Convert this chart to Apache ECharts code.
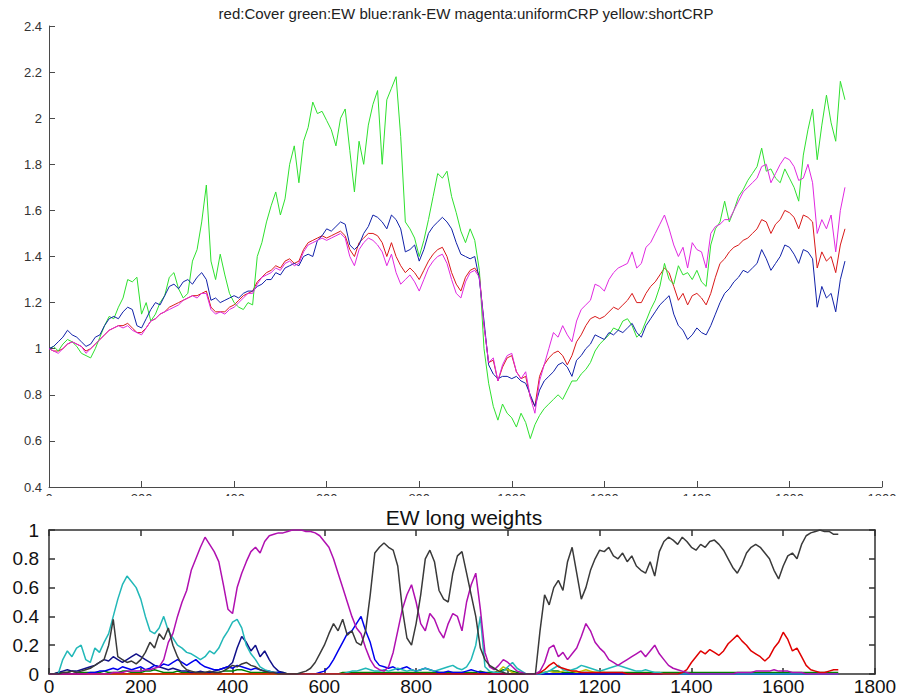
<!DOCTYPE html>
<html>
<head>
<meta charset="utf-8">
<script src="https://cdn.jsdelivr.net/npm/echarts/dist/echarts.min.js"></script>
<style>
  html, body { margin: 0; padding: 0; background: #ffffff; }
  #chart { width: 909px; height: 696px; }
</style>
</head>
<body>
<div id="chart"></div>
<script>
// Sampling step (trading days) between consecutive stored values
const STEP = 10;

// ---- Wealth curves (upper panel), one value every STEP days from day 0 ----
const wealthCover = [
  1.00,0.99,0.99,1.00,1.02,1.03,1.02,1.01,0.99,1.00,
  1.02,1.04,1.06,1.08,1.09,1.10,1.10,1.11,1.09,1.07,
  1.07,1.09,1.12,1.13,1.15,1.16,1.18,1.19,1.20,1.21,
  1.22,1.23,1.23,1.24,1.25,1.18,1.16,1.16,1.16,1.18,
  1.19,1.21,1.23,1.24,1.25,1.29,1.31,1.33,1.34,1.36,
  1.35,1.38,1.39,1.37,1.38,1.43,1.46,1.47,1.48,1.49,
  1.48,1.49,1.50,1.51,1.49,1.43,1.40,1.46,1.48,1.50,
  1.50,1.49,1.46,1.40,1.46,1.40,1.36,1.33,1.35,1.33,
  1.30,1.34,1.38,1.41,1.43,1.44,1.40,1.33,1.28,1.25,
  1.31,1.34,1.35,1.32,1.10,0.94,0.95,0.86,0.92,0.96,
  0.97,0.90,0.87,0.88,0.79,0.75,0.88,0.93,0.96,0.98,
  0.99,0.97,0.93,0.97,1.03,1.06,1.10,1.13,1.14,1.13,
  1.14,1.16,1.18,1.17,1.19,1.21,1.24,1.20,1.20,1.24,
  1.27,1.29,1.32,1.35,1.33,1.27,1.21,1.24,1.19,1.23,
  1.24,1.22,1.19,1.24,1.31,1.37,1.39,1.42,1.44,1.45,
  1.47,1.48,1.50,1.52,1.56,1.55,1.50,1.54,1.56,1.60,
  1.59,1.57,1.52,1.58,1.57,1.55,1.35,1.42,1.38,1.40,
  1.33,1.45,1.52
];
const wealthEW = [
  1.00,1.01,0.99,1.02,1.04,1.03,1.01,0.98,0.97,0.96,
  1.00,1.05,1.10,1.14,1.13,1.18,1.22,1.30,1.29,1.31,
  1.15,1.20,1.12,1.15,1.20,1.23,1.31,1.33,1.26,1.22,
  1.24,1.38,1.43,1.55,1.71,1.38,1.30,1.41,1.32,1.24,
  1.20,1.18,1.17,1.20,1.19,1.40,1.46,1.55,1.62,1.68,
  1.58,1.65,1.80,1.88,1.72,1.90,1.96,2.07,2.02,2.03,
  1.99,1.95,1.88,2.00,2.04,1.86,1.68,1.90,1.80,1.97,
  2.06,2.12,1.80,2.08,2.13,2.18,1.92,1.55,1.52,1.48,
  1.40,1.47,1.56,1.66,1.76,1.74,1.77,1.66,1.59,1.51,
  1.46,1.52,1.47,1.34,1.00,0.85,0.75,0.69,0.76,0.72,
  0.70,0.66,0.72,0.68,0.61,0.67,0.71,0.74,0.76,0.78,
  0.80,0.78,0.82,0.86,0.86,0.89,0.91,0.94,0.99,1.02,
  1.04,1.06,1.09,1.08,1.12,1.13,1.10,1.05,1.07,1.12,
  1.17,1.21,1.27,1.37,1.30,1.28,1.36,1.32,1.33,1.30,
  1.34,1.29,1.27,1.45,1.52,1.55,1.64,1.55,1.60,1.66,
  1.69,1.73,1.76,1.79,1.87,1.77,1.78,1.74,1.72,1.78,
  1.74,1.70,1.64,1.84,1.95,2.04,1.82,1.97,2.10,1.98,
  1.90,2.16,2.08
];
const wealthRankEW = [
  1.00,1.01,1.03,1.05,1.08,1.06,1.05,1.03,1.01,1.02,
  1.05,1.06,1.10,1.13,1.14,1.13,1.16,1.18,1.17,1.10,
  1.09,1.13,1.17,1.20,1.19,1.23,1.27,1.28,1.26,1.29,
  1.30,1.28,1.31,1.33,1.30,1.21,1.22,1.20,1.21,1.22,
  1.23,1.22,1.24,1.25,1.25,1.27,1.28,1.30,1.30,1.33,
  1.32,1.35,1.36,1.37,1.36,1.40,1.41,1.40,1.47,1.49,
  1.52,1.51,1.53,1.55,1.54,1.45,1.43,1.45,1.50,1.53,
  1.58,1.57,1.55,1.52,1.58,1.56,1.52,1.42,1.43,1.45,
  1.38,1.43,1.50,1.53,1.55,1.57,1.55,1.52,1.46,1.41,
  1.40,1.39,1.40,1.30,1.12,0.93,0.89,0.87,0.88,0.88,
  0.87,0.88,0.86,0.85,0.80,0.75,0.82,0.86,0.88,0.90,
  0.93,0.94,0.92,0.88,0.95,0.97,1.00,1.02,1.06,1.05,
  1.04,1.07,1.06,1.08,1.07,1.09,1.11,1.07,1.05,1.10,
  1.13,1.16,1.19,1.21,1.23,1.15,1.10,1.08,1.04,1.06,
  1.09,1.07,1.06,1.10,1.15,1.20,1.24,1.26,1.29,1.31,
  1.34,1.33,1.35,1.37,1.43,1.39,1.34,1.37,1.40,1.45,
  1.44,1.41,1.37,1.43,1.42,1.39,1.18,1.27,1.22,1.24,
  1.16,1.30,1.38
];
const wealthUniformCRP = [
  1.00,0.99,0.98,1.00,1.02,1.03,1.02,1.01,0.98,1.00,
  1.02,1.04,1.06,1.08,1.09,1.10,1.09,1.10,1.08,1.07,
  1.06,1.09,1.12,1.13,1.15,1.16,1.17,1.18,1.19,1.21,
  1.22,1.23,1.22,1.24,1.24,1.17,1.15,1.16,1.15,1.17,
  1.18,1.20,1.22,1.24,1.24,1.28,1.31,1.32,1.33,1.35,
  1.34,1.37,1.38,1.36,1.37,1.42,1.45,1.46,1.47,1.48,
  1.47,1.48,1.49,1.50,1.48,1.40,1.36,1.43,1.46,1.48,
  1.47,1.45,1.42,1.36,1.41,1.33,1.28,1.30,1.32,1.29,
  1.25,1.30,1.35,1.38,1.40,1.41,1.37,1.30,1.24,1.22,
  1.29,1.33,1.34,1.31,1.10,0.94,0.96,0.86,0.93,0.97,
  0.98,0.90,0.87,0.90,0.79,0.72,0.86,0.93,1.00,1.07,
  1.05,1.10,1.06,1.03,1.12,1.17,1.19,1.21,1.28,1.27,
  1.25,1.30,1.33,1.35,1.36,1.37,1.42,1.35,1.37,1.44,
  1.46,1.50,1.54,1.58,1.52,1.45,1.40,1.44,1.35,1.46,
  1.43,1.42,1.35,1.50,1.53,1.54,1.56,1.56,1.60,1.64,
  1.68,1.70,1.72,1.74,1.79,1.80,1.72,1.76,1.80,1.83,
  1.82,1.79,1.73,1.74,1.80,1.72,1.50,1.56,1.52,1.58,
  1.42,1.60,1.70
];

// ---- EW long weights (lower panel), one value every STEP days from day 0 ----
const weightBlue = [
  0,0,0,0,0,0,0,0,0,0.01,
  0.01,0.02,0.02,0.03,0.04,0.03,0.05,0.04,0.03,0.04,
  0.05,0.03,0.04,0.06,0.05,0.07,0.06,0.08,0.10,0.08,
  0.06,0.08,0.10,0.07,0.05,0.04,0.03,0.03,0.04,0.05,
  0.04,0.06,0.05,0.04,0.03,0.04,0.03,0.02,0.02,0.01,
  0.01,0,0,0,0,0,0,0,0,0.01,
  0.02,0.05,0.10,0.16,0.22,0.28,0.30,0.35,0.40,0.30,
  0.22,0.10,0.06,0.05,0.04,0.05,0.03,0.04,0.05,0.03,
  0.02,0.03,0.04,0.03,0.02,0.01,0.01,0.02,0.01,0.01,
  0.01,0.02,0.03,0.02,0.01,0.01,0,0,0,0,
  0,0,0,0,0,0,0,0,0,0,
  0,0,0,0,0,0,0,0,0,0,
  0,0,0,0,0,0,0,0,0,0,
  0,0,0,0,0,0,0,0,0,0,
  0,0,0,0,0,0,0,0,0,0,
  0,0,0,0,0,0,0,0,0,0,
  0,0,0,0,0,0,0,0,0,0,
  0,0,0
];
const weightNavy = [
  0,0,0.01,0.02,0.03,0.02,0.02,0.03,0.04,0.05,
  0.06,0.08,0.10,0.09,0.12,0.10,0.08,0.10,0.12,0.14,
  0.12,0.10,0.08,0.06,0.05,0.04,0.03,0.04,0.03,0.02,
  0.02,0.01,0.01,0.02,0.01,0.01,0.02,0.03,0.04,0.05,
  0.08,0.18,0.26,0.22,0.16,0.20,0.12,0.16,0.10,0.05,
  0.02,0.01,0,0,0,0,0,0,0,0,
  0,0,0,0,0,0,0,0,0,0,
  0,0,0,0,0,0,0,0,0,0,
  0,0,0,0,0,0,0,0,0,0,
  0,0,0,0,0,0,0,0,0,0,
  0,0,0,0,0,0,0,0,0,0,
  0,0,0,0,0,0,0,0,0,0,
  0,0,0,0,0,0,0,0,0,0,
  0,0,0,0,0,0,0,0,0,0,
  0,0,0,0,0,0,0,0,0,0,
  0,0,0,0,0,0,0,0,0,0,
  0,0,0,0,0,0,0,0,0,0,
  0,0,0
];
const weightGreen = [
  0,0,0.01,0.01,0.01,0.02,0.01,0.01,0.01,0.01,
  0.01,0.01,0.02,0.01,0.01,0.01,0.02,0.02,0.01,0.01,
  0.01,0.02,0.02,0.03,0.02,0.01,0.01,0.01,0.02,0.01,
  0.01,0.01,0.01,0.01,0.01,0.01,0.01,0.01,0.02,0.02,
  0.02,0.03,0.03,0.02,0.01,0.01,0.01,0.01,0.01,0.01,
  0.01,0.01,0,0,0,0,0,0,0,0,
  0,0,0,0,0.01,0.01,0.01,0.01,0.01,0.01,
  0.01,0.01,0.01,0.01,0.01,0.01,0.01,0.01,0.01,0.01,
  0.01,0.01,0.01,0.01,0.01,0.01,0.01,0.01,0.01,0.01,
  0.01,0.01,0.01,0.01,0.02,0.01,0.01,0.01,0.02,0.03,
  0.03,0.02,0.01,0,0,0,0,0.01,0.01,0.02,
  0.02,0.02,0.01,0.01,0.01,0.01,0.01,0.01,0.01,0.01,
  0.01,0.01,0.01,0.01,0.01,0.01,0.01,0.01,0.01,0.01,
  0.01,0.01,0.01,0.01,0.01,0.01,0.01,0.01,0.01,0.01,
  0.01,0.01,0.01,0.01,0.01,0.01,0.01,0.01,0.01,0.01,
  0.01,0.01,0.01,0.01,0.01,0.01,0.01,0.01,0.01,0.01,
  0.01,0.01,0.01,0.01,0.01,0.01,0.01,0.01,0.01,0.01,
  0.01,0.01,0.01
];
const weightRed = [
  0,0,0,0,0,0,0,0,0,0,
  0,0,0,0,0,0,0,0,0,0,
  0,0,0,0,0,0,0,0,0,0,
  0,0,0,0,0,0,0,0,0,0,
  0,0,0,0,0,0,0,0,0,0,
  0,0,0,0,0,0,0,0,0,0,
  0,0,0,0,0,0,0,0,0,0,
  0,0,0,0,0,0,0,0,0,0,
  0,0,0,0,0,0,0,0,0,0,
  0,0,0,0,0,0,0,0,0,0,
  0,0,0,0,0,0,0,0.01,0.03,0.06,
  0.08,0.05,0.04,0.03,0.02,0.02,0.01,0.01,0.01,0.01,
  0.01,0.01,0.01,0.01,0.01,0.01,0,0,0,0,
  0,0,0,0,0,0,0,0,0.01,0.03,
  0.08,0.12,0.16,0.14,0.17,0.15,0.13,0.16,0.21,0.24,
  0.27,0.23,0.20,0.16,0.14,0.12,0.09,0.12,0.18,0.22,
  0.29,0.24,0.16,0.18,0.12,0.06,0.03,0.02,0.01,0.01,
  0.02,0.03,0.03
];
const weightCyan = [
  0,0,0,0.10,0.16,0.12,0.18,0.20,0.10,0.08,
  0.18,0.15,0.22,0.28,0.40,0.52,0.62,0.68,0.64,0.60,
  0.52,0.40,0.30,0.28,0.32,0.40,0.30,0.25,0.20,0.18,
  0.15,0.14,0.12,0.10,0.12,0.16,0.14,0.18,0.25,0.30,
  0.36,0.38,0.32,0.20,0.14,0.10,0.05,0.03,0.02,0.01,
  0,0,0,0,0,0,0,0,0,0,
  0,0,0,0,0,0.01,0.02,0.02,0.03,0.04,
  0.03,0.02,0.02,0.03,0.02,0.03,0.04,0.03,0.02,0.03,
  0.02,0.03,0.04,0.03,0.02,0.03,0.04,0.05,0.06,0.04,
  0.03,0.05,0.10,0.20,0.40,0.05,0.02,0.01,0.01,0.02,
  0.05,0.08,0.04,0.02,0,0,0,0,0.01,0.02,
  0.04,0.06,0.03,0.02,0.03,0.04,0.06,0.05,0.04,0.03,
  0.02,0.03,0.04,0.05,0.06,0.05,0.04,0.03,0.02,0.02,
  0.03,0.02,0.01,0.01,0,0,0,0,0,0,
  0,0,0,0,0,0,0,0,0,0,
  0,0,0,0,0,0,0,0,0,0,
  0,0,0,0,0,0,0,0,0,0,
  0,0,0
];
const weightMagenta = [
  0,0,0,0,0,0,0,0,0,0,
  0,0,0,0,0.01,0.01,0.01,0.02,0.02,0.02,
  0.02,0.03,0.03,0.04,0.05,0.10,0.22,0.28,0.40,0.50,
  0.58,0.72,0.80,0.88,0.95,0.90,0.85,0.78,0.62,0.45,
  0.42,0.60,0.70,0.78,0.85,0.88,0.84,0.92,0.96,0.97,
  0.98,0.98,0.99,1.00,1.00,1.00,0.99,0.99,0.98,0.96,
  0.92,0.88,0.80,0.70,0.60,0.50,0.40,0.32,0.28,0.18,
  0.10,0.05,0.03,0.02,0.05,0.15,0.30,0.45,0.55,0.62,
  0.50,0.35,0.30,0.42,0.38,0.30,0.25,0.35,0.42,0.40,
  0.30,0.50,0.62,0.70,0.45,0.15,0.05,0.03,0.06,0.10,
  0.08,0.05,0.02,0.01,0,0,0,0.02,0.08,0.18,
  0.20,0.12,0.15,0.10,0.14,0.18,0.26,0.35,0.30,0.22,
  0.18,0.15,0.10,0.08,0.06,0.08,0.10,0.12,0.14,0.16,
  0.12,0.16,0.20,0.14,0.10,0.06,0.04,0.03,0.02,0.01,
  0,0,0,0,0,0,0,0,0,0,
  0.01,0.01,0.01,0.01,0.02,0.02,0.02,0.02,0.03,0.02,
  0.02,0.02,0.01,0.01,0.01,0,0,0,0,0,
  0,0,0
];
const weightYellow = [
  0,0,0,0,0,0,0,0,0,0,
  0,0,0,0,0,0,0,0,0,0,
  0,0,0,0,0,0,0,0,0,0,
  0,0,0,0,0,0,0,0,0,0,
  0,0,0,0,0,0,0,0,0,0,
  0,0,0,0,0,0,0,0,0,0,
  0,0,0,0,0,0,0,0,0,0,
  0,0,0,0,0,0,0,0,0,0,
  0,0,0,0,0,0,0,0,0,0,
  0,0,0,0,0,0,0,0,0.02,0.05,
  0.03,0.01,0,0,0,0,0,0,0.01,0.02,
  0.01,0.01,0.02,0.03,0.02,0.01,0.02,0.03,0.02,0.01,
  0.01,0.01,0,0,0,0,0,0,0,0,
  0,0,0,0,0,0,0,0,0,0,
  0,0,0,0,0,0,0,0,0,0,
  0,0,0,0,0,0,0,0,0,0,
  0,0,0,0,0,0,0,0,0,0,
  0,0,0
];
const weightGray = [
  0,0,0,0.01,0.01,0.02,0.01,0.02,0.03,0.04,
  0.06,0.08,0.10,0.20,0.38,0.12,0.10,0.08,0.09,0.07,
  0.10,0.15,0.22,0.18,0.28,0.24,0.32,0.20,0.12,0.06,
  0.03,0.02,0.01,0.01,0.01,0.02,0.01,0.01,0.02,0.04,
  0.06,0.05,0.07,0.08,0.06,0.05,0.03,0.02,0.01,0.01,
  0,0,0,0,0,0.01,0.02,0.04,0.08,0.14,
  0.20,0.28,0.35,0.30,0.38,0.27,0.30,0.22,0.20,0.30,
  0.55,0.84,0.88,0.91,0.88,0.86,0.75,0.45,0.25,0.20,
  0.35,0.55,0.80,0.86,0.78,0.58,0.52,0.50,0.70,0.82,
  0.85,0.70,0.55,0.40,0.18,0.10,0.06,0.04,0.02,0.01,
  0,0,0,0,0,0,0,0.30,0.55,0.48,
  0.60,0.65,0.58,0.78,0.88,0.70,0.52,0.60,0.72,0.80,
  0.86,0.85,0.88,0.82,0.80,0.84,0.78,0.82,0.75,0.72,
  0.70,0.78,0.68,0.85,0.92,0.95,0.93,0.90,0.95,0.92,
  0.88,0.86,0.90,0.88,0.92,0.93,0.90,0.86,0.80,0.74,
  0.70,0.76,0.84,0.88,0.90,0.88,0.84,0.80,0.72,0.66,
  0.75,0.82,0.84,0.80,0.90,0.96,0.98,0.99,1.00,0.99,
  0.99,0.97,0.97
];

// Axis ranges and tick spacing
const dayRange = [0, 1800, 200];
const wealthRange = [0.4, 2.4, 0.2];
const weightRange = [0, 1, 0.2];

const TOP_TITLE = 'red:Cover green:EW blue:rank-EW magenta:uniformCRP yellow:shortCRP';
const BOTTOM_TITLE = 'EW long weights';

function toPoints(values) {
  return values.map((v, i) => [i * STEP, v]);
}

const FONT = "'Liberation Sans', Arial, sans-serif";
const plainNumber = (v) => String(v);

const chart = echarts.init(document.getElementById('chart'), null, { renderer: 'svg' });

function lineSeries(values, color, xi, yi, width) {
  return {
    type: 'line',
    xAxisIndex: xi,
    yAxisIndex: yi,
    data: toPoints(values),
    showSymbol: false,
    symbol: 'none',
    silent: true,
    lineStyle: { color: color, width: width },
    animation: false
  };
}

const topAxisStyle = { color: '#4a4a4a', width: 1 };
const botAxisStyle = { color: '#303030', width: 1.5 };

chart.setOption({
  animation: false,
  backgroundColor: '#ffffff',
  title: [
    {
      text: TOP_TITLE, left: 466, top: 6, textAlign: 'center', padding: 0,
      textStyle: { fontSize: 15, fontWeight: 'normal', color: '#222', fontFamily: FONT }
    },
    {
      text: BOTTOM_TITLE, left: 464, top: 507, textAlign: 'center', padding: 0,
      textStyle: { fontSize: 21, fontWeight: 'normal', color: '#111', fontFamily: FONT }
    }
  ],
  grid: [
    { left: 49, right: 27, top: 26, bottom: 209 },
    { left: 49, right: 34, top: 530, bottom: 18 }
  ],
  xAxis: [
    {
      gridIndex: 0, type: 'value', min: dayRange[0], max: dayRange[1], interval: dayRange[2],
      axisLine: { show: true, onZero: false, lineStyle: topAxisStyle },
      axisTick: { show: true, inside: true, length: 6, lineStyle: topAxisStyle },
      axisLabel: { margin: 5, fontSize: 13, color: '#333', fontFamily: FONT, formatter: plainNumber },
      splitLine: { show: false }
    },
    {
      gridIndex: 1, type: 'value', min: dayRange[0], max: dayRange[1], interval: dayRange[2],
      axisLine: { show: true, onZero: false, lineStyle: botAxisStyle },
      axisTick: { show: true, inside: true, length: 6, lineStyle: botAxisStyle },
      axisLabel: { margin: 3, fontSize: 19, color: '#111', fontFamily: FONT, formatter: plainNumber },
      splitLine: { show: false }
    },
    {
      gridIndex: 1, type: 'value', position: 'top', min: dayRange[0], max: dayRange[1], interval: dayRange[2],
      axisLine: { show: true, onZero: false, lineStyle: botAxisStyle },
      axisTick: { show: true, inside: true, length: 6, lineStyle: botAxisStyle },
      axisLabel: { show: false },
      splitLine: { show: false }
    }
  ],
  yAxis: [
    {
      gridIndex: 0, type: 'value', min: wealthRange[0], max: wealthRange[1], interval: wealthRange[2],
      axisLine: { show: true, onZero: false, lineStyle: topAxisStyle },
      axisTick: { show: true, inside: true, length: 6, lineStyle: topAxisStyle },
      axisLabel: { margin: 7, fontSize: 13, color: '#333', fontFamily: FONT },
      splitLine: { show: false }
    },
    {
      gridIndex: 1, type: 'value', min: weightRange[0], max: weightRange[1], interval: weightRange[2],
      axisLine: { show: true, onZero: false, lineStyle: botAxisStyle },
      axisTick: { show: true, inside: true, length: 6, lineStyle: botAxisStyle },
      axisLabel: { margin: 10, fontSize: 19, color: '#111', fontFamily: FONT },
      splitLine: { show: false }
    },
    {
      gridIndex: 1, type: 'value', position: 'right', min: weightRange[0], max: weightRange[1], interval: weightRange[2],
      axisLine: { show: true, onZero: false, lineStyle: botAxisStyle },
      axisTick: { show: true, inside: true, length: 6, lineStyle: botAxisStyle },
      axisLabel: { show: false },
      splitLine: { show: false }
    }
  ],
  // The upper panel's day labels are partly hidden behind the lower panel's header strip
  graphic: {
    elements: [
      { type: 'rect', z: 100, silent: true, shape: { x: 0, y: 496, width: 909, height: 10 }, style: { fill: '#ffffff' } }
    ]
  },
  series: [
    lineSeries(wealthCover, '#d81818', 0, 0, 1),
    lineSeries(wealthEW, '#2ee02e', 0, 0, 1),
    lineSeries(wealthRankEW, '#1020a8', 0, 0, 1),
    lineSeries(wealthUniformCRP, '#e028e0', 0, 0, 1),

    lineSeries(weightGreen, '#008000', 1, 1, 1.5),
    lineSeries(weightYellow, '#bfbf00', 1, 1, 1.5),
    lineSeries(weightNavy, '#10108a', 1, 1, 1.5),
    lineSeries(weightBlue, '#0000ee', 1, 1, 1.5),
    lineSeries(weightCyan, '#22b8b8', 1, 1, 1.5),
    lineSeries(weightRed, '#e00000', 1, 1, 1.5),
    lineSeries(weightMagenta, '#b010b0', 1, 1, 1.5),
    lineSeries(weightGray, '#3a3a3a', 1, 1, 1.5)
  ]
});
</script>
</body>
</html>
